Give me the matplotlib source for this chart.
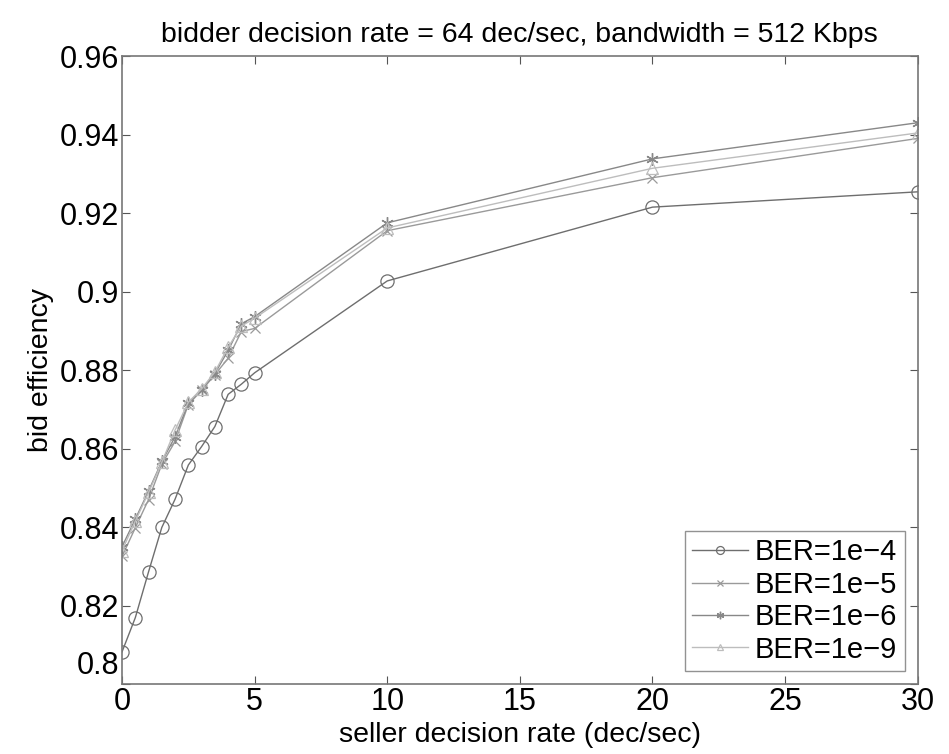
import matplotlib
matplotlib.use("Agg")
import matplotlib.pyplot as plt
import matplotlib.transforms as mtransforms
from matplotlib.ticker import FuncFormatter

# seller decision rate (dec/sec)
rate = [0, 0.5, 1, 1.5, 2, 2.5, 3, 3.5, 4, 4.5, 5, 10, 20, 30]

# bid efficiency per BER
ber_1e4 = [0.8082, 0.8169, 0.8286, 0.8399, 0.8471, 0.8558, 0.8605, 0.8656,
           0.8738, 0.8764, 0.8793, 0.9027, 0.9215, 0.9254]
ber_1e5 = [0.8325, 0.8398, 0.8470, 0.8560, 0.8618, 0.8712, 0.8748, 0.8788,
           0.8830, 0.8898, 0.8906, 0.9155, 0.9290, 0.9390]
ber_1e6 = [0.8350, 0.8420, 0.8492, 0.8567, 0.8630, 0.8716, 0.8750, 0.8791,
           0.8850, 0.8918, 0.8936, 0.9175, 0.9338, 0.9430]
ber_1e9 = [0.8340, 0.8415, 0.8488, 0.8565, 0.8647, 0.8718, 0.8752, 0.8795,
           0.8858, 0.8912, 0.8932, 0.9162, 0.9314, 0.9404]

labels = ["BER=1e\u22124", "BER=1e\u22125", "BER=1e\u22126", "BER=1e\u22129"]

plt.rcParams['font.family'] = ['Liberation Sans', 'DejaVu Sans']

fig = plt.figure(figsize=(9.49, 7.54), dpi=100)
ax = fig.add_axes([0.1286, 0.0928, 0.8384, 0.8329])

ax.plot(rate, ber_1e4, color="#6e6e6e", lw=1.0, marker="o", ms=9.5,
        mfc="none", mew=0.9, label=labels[0])
ax.plot(rate, ber_1e5, color="#9a9a9a", lw=1.0, marker="x", ms=7,
        mew=0.9, label=labels[1])
ax.plot(rate, ber_1e6, color="#888888", lw=1.0, marker=(6, 2, 0), ms=9,
        mew=1.0, label=labels[2])
ax.plot(rate, ber_1e9, color="#bdbdbd", lw=1.0, marker="^", ms=8,
        mfc="none", mew=0.9, label=labels[3])

ax.set_xlim(0, 30)
ax.set_ylim(0.8, 0.96)
ax.set_xticks(range(0, 31, 5))
ax.set_yticks([0.8 + 0.02 * i for i in range(9)])
ax.yaxis.set_major_formatter(FuncFormatter(lambda v, p: "%g" % round(v, 2)))

ax.tick_params(direction="in", top=True, right=True, length=6,
               width=0.8, color="#555555", labelsize=22, pad=2)
for s in ax.spines.values():
    s.set_color("#777777")
    s.set_linewidth(1.2)

ax.set_xlabel("seller decision rate (dec/sec)", fontsize=20.5, labelpad=4)
ax.set_ylabel("bid efficiency", fontsize=20.5, labelpad=4)
ax.set_title("bidder decision rate = 64 dec/sec, bandwidth = 512 Kbps",
             fontsize=20.5, pad=10)

leg = ax.legend(loc="lower right", fontsize=21, frameon=True, fancybox=False,
                borderpad=0.25, labelspacing=0.15, handlelength=1.9,
                handletextpad=0.25, borderaxespad=0.45, markerscale=0.6)
leg.get_frame().set_edgecolor("#777777")
leg.get_frame().set_linewidth(1.0)

# lift the bottom y label clear of the x label "0", as in the original
fig.canvas.draw()
lift = mtransforms.ScaledTranslation(0, 0.22, fig.dpi_scale_trans)
first = ax.get_yticklabels()[0]
first.set_transform(first.get_transform() + lift)

fig.savefig("out.png", dpi=100)
